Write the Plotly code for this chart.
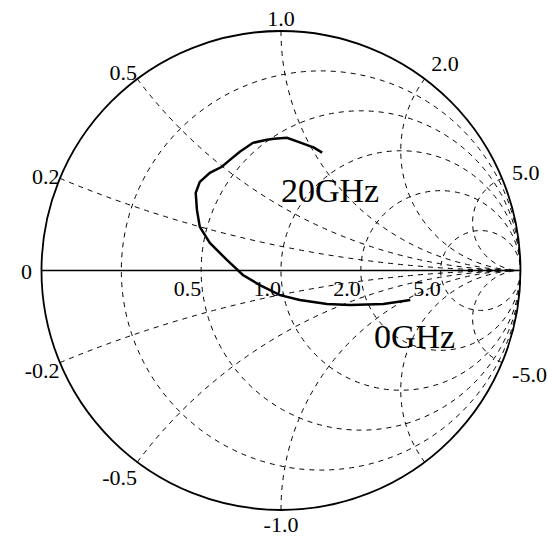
import numpy as np
import plotly.graph_objects as go

# Reflection coefficient (S11), 0 GHz -> 20 GHz
gamma_re = [0.540, 0.427, 0.289, 0.192, 0.079, -0.004, -0.088, -0.159, -0.226, -0.297,
            -0.339, -0.351, -0.356, -0.339, -0.297, -0.247, -0.213, -0.172, -0.117, -0.059,
            -0.029, 0.025, 0.084, 0.138, 0.172]
gamma_im = [-0.123, -0.140, -0.144, -0.140, -0.123, -0.103, -0.061, -0.019, 0.044, 0.115,
            0.182, 0.253, 0.324, 0.370, 0.408, 0.433, 0.462, 0.496, 0.533, 0.546,
            0.550, 0.554, 0.533, 0.513, 0.492]

# grid values
real_grid = [0.2, 0.5, 1.0, 2.0, 5.0]
imag_grid = [-5.0, -2.0, -1.0, -0.5, -0.2, 0, 0.2, 0.5, 1.0, 2.0, 5.0]
# labelled values
real_labels = [0.5, 1.0, 2.0, 5.0]
imag_labels_left = [-1.0, -0.5, -0.2, 0.2, 0.5, 1.0]
imag_labels_right = [-5.0, 2.0, 5.0]

g = np.array(gamma_re) + 1j * np.array(gamma_im)
z = (1 + g) / (1 - g)

FONT = "Liberation Serif"
DOM = dict(x=[0.0757, 0.9498], y=[0.0503, 0.9423])
CLEAR = "rgba(0,0,0,0)"
TF = dict(family=FONT, size=22, color="black")

fig = go.Figure()
# grid layers carry invisible copies of the data so their subplots are drawn
for sp in ["smith", "smith3"]:
    fig.add_trace(go.Scattersmith(real=z.real, imag=z.imag, mode="lines", subplot=sp,
                                  line=dict(color=CLEAR, width=0),
                                  showlegend=False, hoverinfo="skip"))
fig.add_trace(go.Scattersmith(real=z.real, imag=z.imag, mode="lines", subplot="smith2",
                              line=dict(color="black", width=2.5),
                              showlegend=False, hoverinfo="skip"))

fig.update_layout(
    width=548, height=537,
    margin=dict(l=0, r=0, t=0, b=0),
    paper_bgcolor="white",
    font=dict(family=FONT, size=22, color="black"),
    smith=dict(
        bgcolor="white",
        domain=DOM,
        realaxis=dict(tickvals=real_grid, showticklabels=False,
                      ticks="", showline=True, linecolor="black", linewidth=1.5,
                      showgrid=True, gridcolor="black", griddash="5px,5px", gridwidth=1),
        imaginaryaxis=dict(tickvals=imag_grid, showticklabels=False,
                           ticks="", showline=True, linecolor="black", linewidth=1.8,
                           showgrid=True, gridcolor="black", griddash="5px,5px", gridwidth=1),
    ),
    smith2=dict(
        bgcolor=CLEAR,
        domain=DOM,
        realaxis=dict(tickvals=real_labels, tickformat=".1f", tickangle=0,
                      ticksuffix="\u00a0" * 5,
                      side="bottom", ticks="bottom", ticklen=3, tickcolor=CLEAR,
                      showline=False, showgrid=False, tickfont=TF),
        imaginaryaxis=dict(tickvals=imag_labels_left, tickformat=".1f",
                           ticks="", showline=False, showgrid=False, tickfont=TF),
    ),
    smith3=dict(
        bgcolor=CLEAR,
        domain=DOM,
        realaxis=dict(tickvals=real_labels, showticklabels=False, ticks="",
                      showline=False, showgrid=False),
        imaginaryaxis=dict(tickvals=imag_labels_right, tickformat=".1f",
                           ticks="outside", ticklen=6, tickcolor=CLEAR,
                           showline=False, showgrid=False, tickfont=TF),
    ),
    annotations=[
        dict(text="0", x=34 / 548, y=1 - 271 / 537, xref="paper", yref="paper",
             xanchor="right", yanchor="middle", showarrow=False, font=TF),
        dict(text="20GHz", x=0.602, y=0.646, xref="paper", yref="paper", showarrow=False,
             xanchor="center", yanchor="middle",
             font=dict(family=FONT, size=34, color="black")),
        dict(text="0GHz", x=0.757, y=0.374, xref="paper", yref="paper", showarrow=False,
             xanchor="center", yanchor="middle",
             font=dict(family=FONT, size=34, color="black")),
    ],
)

post = """
var gd = document.getElementById('{plot_id}');
function fixText(){
  gd.querySelectorAll('text').forEach(function(t){
    if (t.textContent === '\\u221e') { t.style.display = 'none'; }
    else if (t.textContent.indexOf('\\u2212') >= 0) {
      t.textContent = t.textContent.replace(/\\u2212/g, '-');
    }
  });
}
fixText();
"""

fig.write_html("out.html", post_script=post)
